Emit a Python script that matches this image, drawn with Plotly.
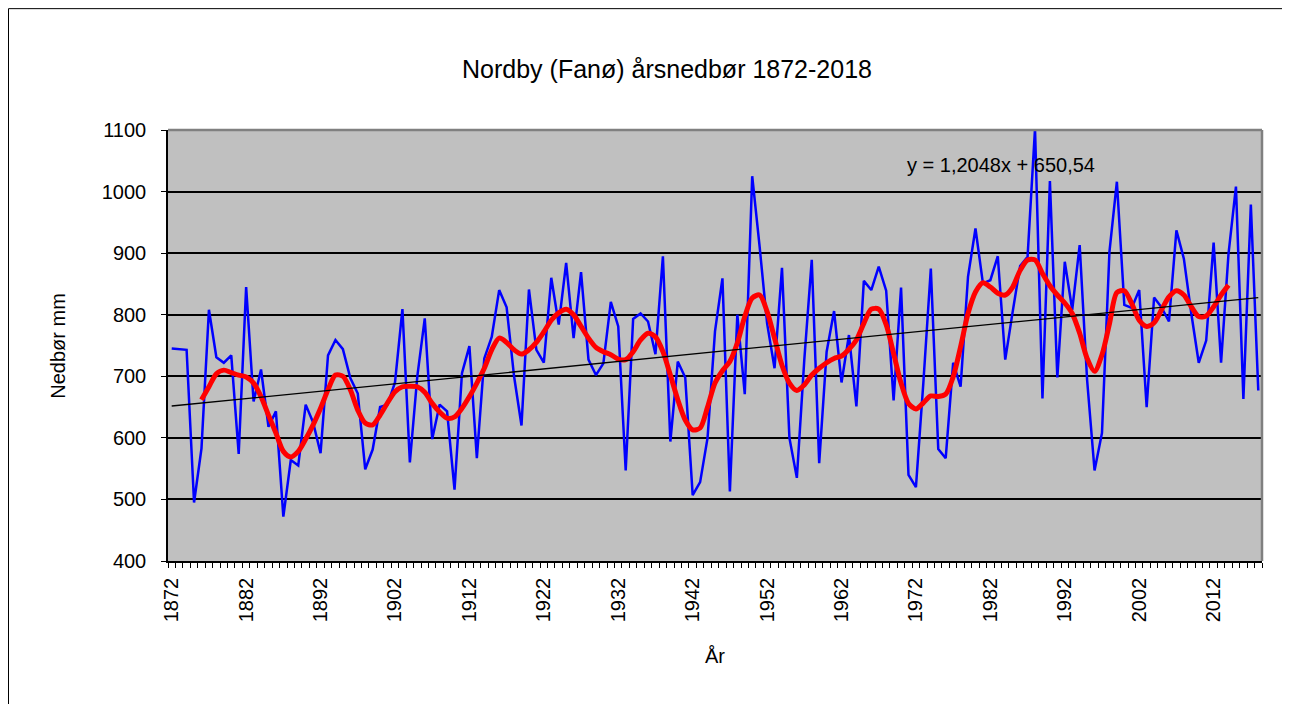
import plotly.graph_objects as go

# ---- Data ----
years = list(range(1872, 2019))
precip_mm = [
    745, 744, 743, 495, 583, 808, 731, 722, 734, 574,   # 1872-1881
    845, 659, 711, 618, 643, 472, 564, 555, 654, 625,   # 1882-1891
    575, 734, 759, 744, 697, 672, 549, 581, 650, 654,   # 1892-1901
    690, 809, 560, 700, 794, 598, 654, 643, 516, 705,   # 1902-1911
    749, 567, 729, 764, 840, 812, 700, 620, 841, 743,   # 1912-1921
    722, 860, 784, 884, 762, 869, 727, 702, 721, 821,   # 1922-1931
    781, 547, 793, 802, 789, 736, 895, 594, 724, 698,   # 1932-1941
    507, 528, 600, 773, 859, 513, 800, 671, 1025, 910,  # 1942-1951
    786, 713, 876, 600, 535, 727, 889, 559, 740, 806,   # 1952-1961
    690, 767, 651, 855, 840, 878, 839, 661, 844, 540,   # 1962-1971
    520, 690, 875, 582, 567, 722, 683, 862, 940, 851,   # 1972-1981
    856, 895, 727, 805, 879, 894, 1102, 664, 1017, 698, # 1982-1991
    886, 808, 913, 694, 547, 608, 902, 1016, 816, 811,  # 1992-2001
    840, 650, 828, 812, 789, 937, 891, 802, 722, 758,   # 2002-2011
    917, 722, 899, 1008, 663, 979, 677,                 # 2012-2018
]

smooth_years = list(range(1876, 2015))
smooth_mm = [
    662, 683, 704, 710, 706, 702, 699, 689, 667, 637,   # 1876-1885
    608, 578, 569, 578, 598, 621, 648, 678, 702, 700,   # 1886-1895
    678, 645, 624, 621, 637, 657, 675, 683, 684, 683,   # 1896-1905
    674, 656, 642, 632, 634, 648, 667, 689, 713, 743,   # 1906-1915
    762, 755, 743, 736, 743, 755, 772, 791, 803, 809,   # 1916-1925
    800, 781, 762, 747, 740, 735, 728, 727, 740, 759,   # 1926-1935
    770, 764, 740, 702, 662, 629, 613, 616, 650, 689,   # 1936-1945
    709, 724, 754, 797, 827, 832, 805, 762, 718, 689,   # 1946-1955
    677, 686, 702, 713, 722, 729, 733, 744, 759, 786,   # 1956-1965
    809, 809, 784, 737, 689, 656, 647, 657, 668, 667,   # 1966-1975
    671, 699, 748, 802, 837, 852, 845, 835, 832, 845,   # 1976-1985
    872, 889, 889, 867, 847, 832, 819, 802, 770, 729,   # 1986-1995
    708, 735, 785, 836, 839, 818, 791, 781, 787, 808,   # 1996-2005
    829, 839, 832, 813, 797, 798, 813, 832, 848,        # 2006-2014
]

trend_slope = 1.2048
trend_intercept = 650.54
trend_years = [years[0], years[-1]]
trend_mm = [trend_slope * (y - years[0] + 1) + trend_intercept for y in trend_years]

x_tick_vals = list(range(1872, 2013, 10))
x_tick_labels = [str(v) for v in x_tick_vals]
y_tick_vals = list(range(400, 1101, 100))

title_text = "Nordby (Fanø) årsnedbør 1872-2018"
y_title = "Nedbør mm"
x_title = "År"
eq_text = "y = 1,2048x + 650,54"

assert len(precip_mm) == len(years)
assert len(smooth_mm) == len(smooth_years)

# ---- Layout geometry (page pixels; the page body has an 8px margin) ----
OFF = 8
W, H = 1290 - OFF, 704 - OFF
PL, PR, PT, PB = 168, 1262, 130, 561.5   # plot area in page pixels
pw, ph = PR - PL, PB - PT


def px(x):
    return (x - PL) / pw


def py(y):
    return (PB - y) / ph


FONT = "Liberation Sans, Arial, sans-serif"

fig = go.Figure()
fig.add_trace(go.Scatter(x=years, y=precip_mm, mode="lines",
                         line=dict(color="#0000FF", width=2.5),
                         showlegend=False, hoverinfo="x+y"))
fig.add_trace(go.Scatter(x=smooth_years, y=smooth_mm, mode="lines",
                         line=dict(color="#FF0000", width=5, shape="spline", smoothing=0.8),
                         showlegend=False, hoverinfo="x+y"))
fig.add_trace(go.Scatter(x=trend_years, y=trend_mm, mode="lines",
                         line=dict(color="#000000", width=1.3),
                         showlegend=False, hoverinfo="skip"))

fig.update_layout(
    width=W, height=H,
    margin=dict(l=PL - OFF, r=(W + OFF) - PR, t=PT - OFF, b=(H + OFF) - PB),
    paper_bgcolor="white",
    plot_bgcolor="#C0C0C0",
    font=dict(family=FONT, color="black", size=20),
    title=dict(text=title_text, x=(667 - OFF) / W, xanchor="center",
               y=1 - (69 - OFF) / H, yanchor="middle", yref="container",
               font=dict(size=25, family=FONT, color="black")),
    xaxis=dict(
        range=[1871.5, 2018.5],
        tickmode="array", tickvals=x_tick_vals, ticktext=x_tick_labels,
        tickangle=-90, ticks="", ticklabelstandoff=7,
        tickfont=dict(size=20, family=FONT),
        showgrid=False, zeroline=False,
        showline=True, linecolor="black", linewidth=1.5,
        minor=dict(ticks="outside", ticklen=5, tickcolor="black", tickwidth=1,
                   tick0=1871.5, dtick=1, showgrid=False),
    ),
    yaxis=dict(
        range=[400, 1100],
        tickmode="array", tickvals=y_tick_vals,
        ticks="outside", ticklen=5, tickcolor="black", tickwidth=1,
        ticklabelstandoff=11,
        tickfont=dict(size=20, family=FONT),
        showgrid=True, gridcolor="black", gridwidth=2,
        zeroline=False,
        showline=True, linecolor="black", linewidth=1.5,
    ),
    shapes=[
        # plot area border (top and right in grey)
        dict(type="line", xref="paper", yref="paper", x0=0, x1=1, y0=1, y1=1,
             line=dict(color="#808080", width=2.5)),
        dict(type="line", xref="paper", yref="paper", x0=1, x1=1, y0=0, y1=1,
             line=dict(color="#808080", width=2.5)),
        # chart area border
        dict(type="rect", xref="paper", yref="paper",
             x0=px(OFF + 0.5), x1=px(1285), y0=py(OFF + 0.5), y1=py(712),
             line=dict(color="black", width=1), fillcolor="rgba(0,0,0,0)"),
    ],
    annotations=[
        dict(text=eq_text, xref="paper", yref="paper", x=px(905), y=py(165),
             xanchor="left", yanchor="middle", showarrow=False,
             font=dict(size=20, family=FONT, color="black")),
        dict(text=y_title, xref="paper", yref="paper", x=px(58), y=py(346),
             xanchor="center", yanchor="middle", textangle=-90, showarrow=False,
             font=dict(size=20, family=FONT, color="black")),
        dict(text=x_title, xref="paper", yref="paper", x=px(715), y=py(657),
             xanchor="center", yanchor="middle", showarrow=False,
             font=dict(size=20, family=FONT, color="black")),
    ],
)

fig.write_html("out.html")
